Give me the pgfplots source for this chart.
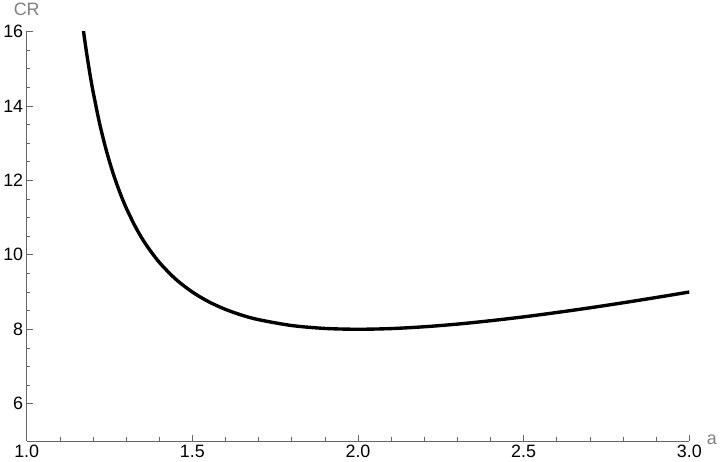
\documentclass[border=0pt]{standalone}
\usepackage{pgfplots}
\pgfplotsset{compat=1.18}
\usepackage{fontspec}
\setmainfont{Liberation Sans}
\begin{document}
\begin{tikzpicture}
\begin{axis}[
  scale only axis,
  width=665bp, height=411bp,
  xmin=1, xmax=3, ymin=5, ymax=16,
  axis x line=bottom, axis y line=left,
  axis line style={-, gray!80!black, line width=0.8pt},
  every tick/.style={gray!80!black, line width=0.6pt},
  tick align=inside,
  major tick length=6bp, minor tick length=3.5bp,
  xtick={1,1.5,2,2.5,3}, minor x tick num=4,
  ytick={6,8,10,12,14,16}, minor y tick num=3,
  x tick label style={yshift=-1bp, /pgf/number format/.cd, fixed, fixed zerofill, precision=1},
  /pgf/number format/assume math mode=true,
  tick label style={font=\fontsize{18}{21}\selectfont, text=black},
  xlabel={a}, ylabel={CR},
  label style={font=\fontsize{18}{21}\selectfont, text=gray},
  xlabel style={at={(rel axis cs:1,0)}, anchor=west, xshift=14bp, yshift=1bp},
  ylabel style={at={(rel axis cs:0,1)}, anchor=south, rotate=-90, yshift=12bp, xshift=0bp},
]
\addplot[black, line width=3.4pt, smooth] coordinates {
  (1.16,16.82) (1.17,16.105) (1.18,15.471) (1.19,14.906) (1.20,14.4)
  (1.22,13.531) (1.24,12.813) (1.26,12.212) (1.28,11.703) (1.30,11.267)
  (1.33,10.721) (1.36,10.276) (1.40,9.8) (1.45,9.344) (1.50,9.0)
  (1.55,8.736) (1.60,8.533) (1.65,8.377) (1.70,8.257) (1.80,8.1)
  (1.90,8.022) (2.00,8.0) (2.10,8.018) (2.20,8.067) (2.30,8.138)
  (2.40,8.229) (2.50,8.333) (2.60,8.45) (2.70,8.576) (2.80,8.711)
  (2.90,8.853) (3.00,9.0)
};
\end{axis}
\end{tikzpicture}
\end{document}
